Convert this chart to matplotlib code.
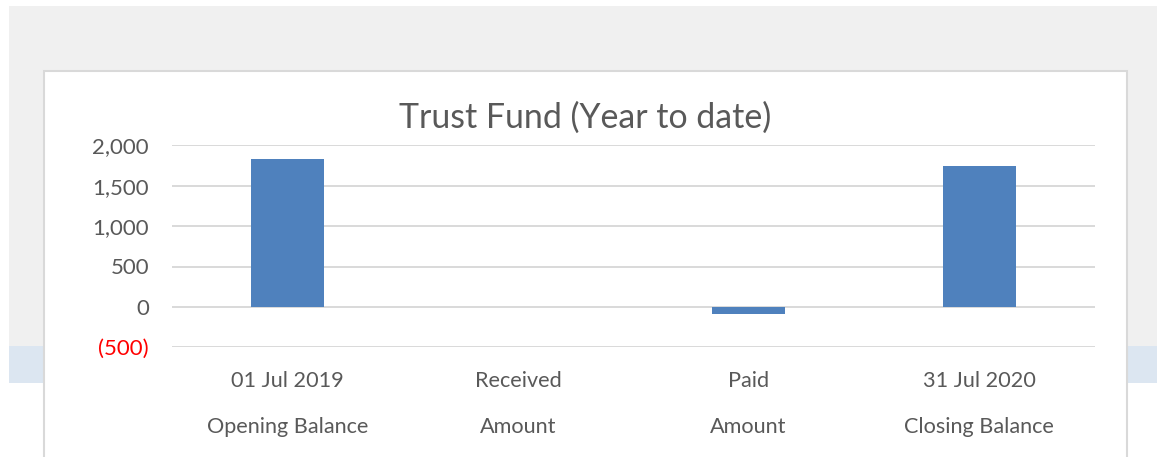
import matplotlib
matplotlib.use("Agg")
import matplotlib.pyplot as plt
from matplotlib.patches import Rectangle
from matplotlib.ticker import FuncFormatter

# Trust fund movements, year to date
dates = ["01 Jul 2019", "Received", "Paid", "31 Jul 2020"]
captions = ["Opening Balance", "Amount", "Amount", "Closing Balance"]
amounts = [1830, 0, -92, 1738]
y_ticks = [-500, 0, 500, 1000, 1500, 2000]

W, H = 1157, 457
fig = plt.figure(figsize=(W / 100, H / 100), dpi=100)
fig.patch.set_facecolor("white")

def px_rect(x0, y0, x1, y1, **kw):
    fig.patches.append(Rectangle((x0 / W, 1 - y1 / H), (x1 - x0) / W, (y1 - y0) / H,
                                 transform=fig.transFigure, figure=fig, **kw))

# page background behind the chart panel
px_rect(9, 6, W, 346, facecolor="#f0f0f0", edgecolor="none", zorder=0)
px_rect(9, 346, W, 383, facecolor="#dce6f1", edgecolor="none", zorder=0)
# chart panel
px_rect(44, 71, 1127, H + 5, facecolor="white", edgecolor="#d9d9d9", linewidth=1.5, zorder=1)

font = "Lato"
grey = "#595959"

ax = fig.add_axes([172 / W, 1 - 347.3 / H, (1094.7 - 172) / W, (347.3 - 145.3) / H], zorder=2)
ax.set_facecolor("none")
x = range(len(amounts))
ax.bar(x, amounts, width=0.315, color="#4f81bd", zorder=3)
ax.set_xlim(-0.5, len(amounts) - 0.5)
ax.set_ylim(-500, 2000)
ax.set_yticks(y_ticks)
ax.yaxis.set_major_formatter(FuncFormatter(
    lambda v, p: f"({abs(int(v)):,})" if v < 0 else f"{int(v):,}"))
ax.grid(axis="y", color="#d9d9d9", linewidth=1.4, zorder=0)
for s in ax.spines.values():
    s.set_visible(False)
ax.tick_params(length=0)
ax.tick_params(axis="y", pad=16.5)
ax.tick_params(axis="x", pad=17)
ax.set_xticks(list(x))
ax.set_xticklabels([f"{d}\n{c}" for d, c in zip(dates, captions)],
                   fontsize=15.6, color=grey, family=font, linespacing=2.63)
for lab, v in zip(ax.get_yticklabels(), y_ticks):
    lab.set_family(font)
    lab.set_fontsize(16)
    lab.set_color("red" if v < 0 else grey)

fig.text(585.5 / W, 1 - 118 / H, "Trust Fund (Year to date)", ha="center", va="center",
         fontsize=24.4, color=grey, family=font, zorder=3)

fig.savefig("out.png", dpi=100)
